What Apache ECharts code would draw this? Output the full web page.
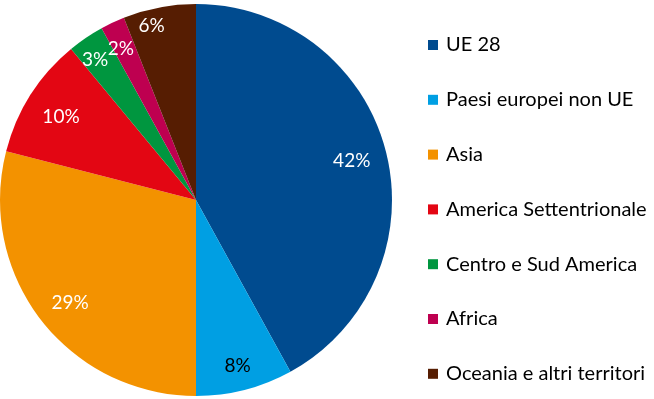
<!DOCTYPE html>
<html>
<head>
<meta charset="utf-8">
<script src="https://cdn.jsdelivr.net/npm/echarts@6/dist/echarts.min.js"></script>
<style>
  html, body { margin: 0; padding: 0; background: #fff; }
  #chart { width: 654px; height: 399px; }
</style>
</head>
<body>
<div id="chart"></div>
<script>
// regions and their shares (%)
const regions = ['UE 28', 'Paesi europei non UE', 'Asia', 'America Settentrionale',
  'Centro e Sud America', 'Africa', 'Oceania e altri territori'];
const shares = [42, 8, 29, 10, 3, 2, 6];
const colors = ['#004B8F', '#009FE3', '#F39200', '#E30613', '#00963F', '#BE0050', '#561D02'];
const labelColors = ['#fff', '#000', '#fff', '#fff', '#fff', '#fff', '#fff'];
// small nudges so the labels sit where the original puts them
const labelNudge = [[-6, 2], [0, 4], [6, 1], [6, 6], [-7, -2], [-4, 0], [-13, -10]];

const font = 'Lato, "Open Sans", sans-serif';

let chart = echarts.init(document.getElementById('chart'));

const pieData = regions.map((name, i) => ({
  name: name,
  value: shares[i],
  itemStyle: { color: colors[i] }
}));

// second ring only carries the labels, so they sit near the rim
const labelData = regions.map((name, i) => ({
  name: name,
  value: shares[i],
  itemStyle: { color: 'rgba(0,0,0,0)' },
  label: { color: labelColors[i], offset: labelNudge[i] }
}));

chart.setOption({
  animation: false,
  color: colors,
  legend: {
    orient: 'vertical',
    left: 423,
    top: 30,
    data: regions,
    icon: 'rect',
    itemWidth: 10,
    itemHeight: 10,
    itemGap: 34.8,
    textStyle: { fontFamily: font, fontSize: 20, color: '#000', lineHeight: 20, padding: [0, 0, 0, 3] },
    selectedMode: false
  },
  series: [
    {
      type: 'pie',
      center: [196, 200],
      radius: [0, 196],
      startAngle: 90,
      label: { show: false },
      labelLine: { show: false },
      emphasis: { disabled: true },
      data: pieData
    },
    {
      type: 'pie',
      center: [196, 200],
      radius: [132, 196],
      startAngle: 90,
      silent: true,
      avoidLabelOverlap: false,
      minShowLabelAngle: 0,
      label: {
        show: true,
        position: 'inside',
        formatter: '{c}%',
        fontFamily: font,
        fontSize: 19
      },
      labelLine: { show: false },
      labelLayout: { hideOverlap: false },
      data: labelData
    }
  ]
});
</script>
</body>
</html>
